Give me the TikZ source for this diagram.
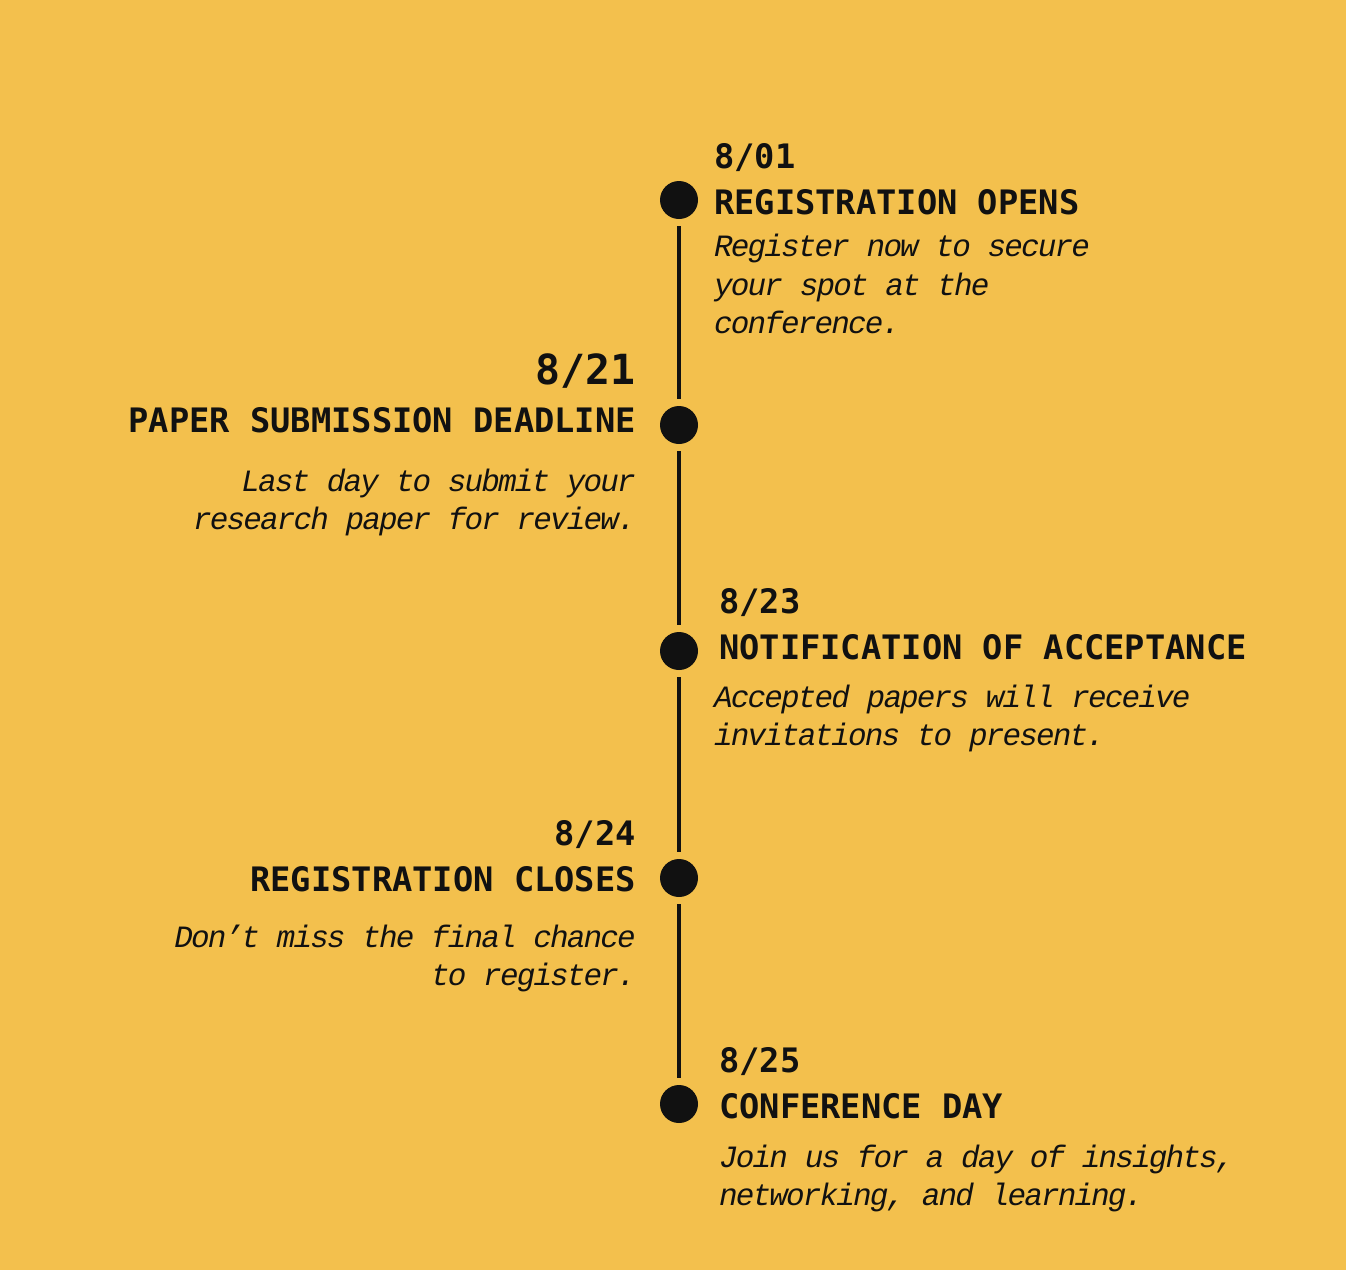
\documentclass[tikz,border=0pt]{standalone}
\usepackage{fontspec}
\newfontfamily\headfont{DejaVu Sans Mono}
\newfontfamily\descfont{Liberation Mono}[LetterSpace=-6.0]
\definecolor{bg}{HTML}{F3C04D}
\definecolor{ink}{HTML}{111111}
\tikzset{
  dot/.style={circle, fill=ink, minimum size=38pt, inner sep=0pt},
  tl/.style={draw=ink, line width=4pt, shorten <=7pt, shorten >=7pt},
  txt/.style={inner sep=0pt, text=ink},
  head/.style={txt, font=\headfont\bfseries\fontsize{33.7}{40}\selectfont},
  bigdate/.style={txt, font=\headfont\bfseries\fontsize{41.5}{48}\selectfont},
  desc/.style={txt, font=\descfont\itshape\fontsize{31}{38}\selectfont},
  R/.style={anchor=base west},
  L/.style={anchor=base east}
}
\begin{document}
\begin{tikzpicture}[x=1pt,y=-1pt]
\fill[bg] (0,0) rectangle (1346,1270);
\useasboundingbox (0,0) rectangle (1346,1270);

% dots
\node[dot] (d1) at (679,200) {};
\node[dot] (d2) at (679,425) {};
\node[dot] (d3) at (679,651) {};
\node[dot] (d4) at (679,878) {};
\node[dot] (d5) at (679,1104) {};

% timeline segments
\draw[tl] (d1) -- (d2);
\draw[tl] (d2) -- (d3);
\draw[tl] (d3) -- (d4);
\draw[tl] (d4) -- (d5);

% event 1
\node[head,R] (e1date) at (714,168) {8/01};
\node[head,R] (e1head) at (714,214) {REGISTRATION OPENS};
\node[desc,R] (e1d1) at (714,256) {Register now to secure};
\node[desc,R] (e1d2) at (714,295) {your spot at the};
\node[desc,R] (e1d3) at (714,333) {conference.};

% event 2
\node[bigdate,L] (e2date) at (636,384) {8/21};
\node[head,L] (e2head) at (636,432) {PAPER SUBMISSION DEADLINE};
\node[desc,L] (e2d1) at (636,491) {Last day to submit your};
\node[desc,L] (e2d2) at (636,529) {research paper for review.};

% event 3
\node[head,R] (e3date) at (719,613) {8/23};
\node[head,R] (e3head) at (719,659) {NOTIFICATION OF ACCEPTANCE};
\node[desc,R] (e3d1) at (714,707) {Accepted papers will receive};
\node[desc,R] (e3d2) at (714,745) {invitations to present.};

% event 4
\node[head,L] (e4date) at (636,845) {8/24};
\node[head,L] (e4head) at (636,891) {REGISTRATION CLOSES};
\node[desc,L] (e4d1) at (636,947) {Don’t miss the final chance};
\node[desc,L] (e4d2) at (636,985) {to register.};

% event 5
\node[head,R] (e5date) at (719,1072) {8/25};
\node[head,R] (e5head) at (719,1118) {CONFERENCE DAY};
\node[desc,R] (e5d1) at (719,1167) {Join us for a day of insights,};
\node[desc,R] (e5d2) at (719,1205) {networking, and learning.};
\end{tikzpicture}
\end{document}
